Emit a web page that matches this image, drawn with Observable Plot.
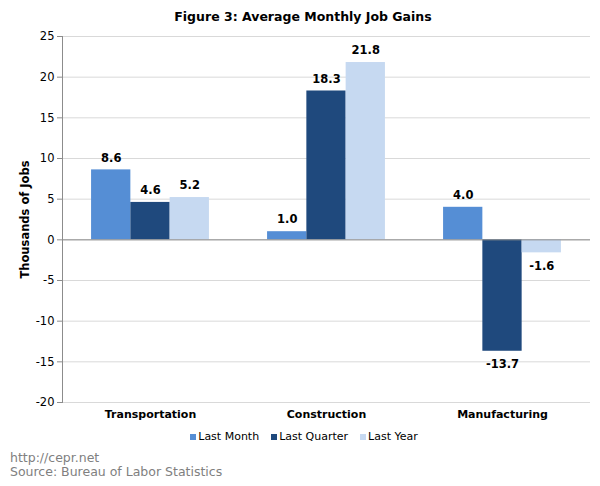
<!DOCTYPE html>
<html>
<head>
<meta charset="utf-8">
<script src="https://cdn.jsdelivr.net/npm/d3@7"></script>
<script src="https://cdn.jsdelivr.net/npm/@observablehq/plot@0.6"></script>
<style>
  html, body { margin: 0; padding: 0; background: #fff; }
  #wrap { position: relative; width: 600px; height: 486px; font-family: "DejaVu Sans", Verdana, sans-serif; }
  #title { position: absolute; top: 9px; left: 0; width: 606px; text-align: center; font-weight: bold; font-size: 12.5px; color: #000; }
  #legend { position: absolute; top: 430px; left: 0; width: 600px; display: flex; justify-content: center; gap: 12px; font-size: 11px; color: #000; padding-left: 8px; box-sizing: border-box; }
  #legend .item { display: flex; align-items: center; gap: 2px; }
  #legend .sw { width: 6px; height: 6px; display: inline-block; }
  #footer { position: absolute; top: 451px; left: 10px; font-size: 12.5px; line-height: 14px; color: #808080; }
  svg [aria-label="y-axis label"] text { font-weight: bold; }
</style>
</head>
<body>
<div id="wrap">
  <div id="title">Figure 3: Average Monthly Job Gains</div>
  <div id="chart"></div>
  <div id="legend"></div>
  <div id="footer">http://cepr.net<br>Source: Bureau of Labor Statistics</div>
</div>
<script>
const categories = ["Transportation", "Construction", "Manufacturing"];
const seriesNames = ["Last Month", "Last Quarter", "Last Year"];
const lastMonth = [8.6, 1.0, 4.0];
const lastQuarter = [4.6, 18.3, -13.7];
const lastYear = [5.2, 21.8, -1.6];
const seriesColors = ["#558ED5", "#1F497D", "#C6D9F1"];
const yTicks = [-20, -15, -10, -5, 0, 5, 10, 15, 20, 25];

const seriesValues = [lastMonth, lastQuarter, lastYear];
const data = [];
categories.forEach((c, i) => {
  seriesNames.forEach((s, j) => {
    data.push({category: c, series: s, value: seriesValues[j][i]});
  });
});
const fmt = v => v.toFixed(1);

const chart = Plot.plot({
  width: 600,
  height: 486,
  marginTop: 36,
  marginBottom: 84,
  marginLeft: 62,
  marginRight: 10,
  style: { fontFamily: "DejaVu Sans, Verdana, sans-serif", fontSize: "11px", color: "#000", background: "#fff" },
  fx: { domain: categories, paddingInner: 0, paddingOuter: 0, label: null },
  x: { domain: seriesNames, paddingInner: 0, paddingOuter: 0.74, round: false, axis: null },
  y: { domain: [-20, 25], label: "Thousands of Jobs" },
  color: { domain: seriesNames, range: seriesColors },
  marks: [
    Plot.ruleY(yTicks, { stroke: "#d9d9d9", strokeWidth: 1 }),
    Plot.barY(data, { fx: "category", x: "series", y: "value", fill: "series" }),
    Plot.ruleY([0], { stroke: "#8c8c8c", strokeWidth: 1 }),
    Plot.text(data.filter(d => d.value >= 0), { fx: "category", x: "series", y: "value", text: d => fmt(d.value), dy: -12, fontWeight: "bold", fontSize: 11.5 }),
    Plot.text(data.filter(d => d.value < 0), { fx: "category", x: "series", y: "value", text: d => fmt(d.value), dy: 13, fontWeight: "bold", fontSize: 11.5 }),
    Plot.frame({ anchor: "left", facetAnchor: "left", stroke: "#8c8c8c" }),
    Plot.axisY({ ticks: yTicks, tickFormat: d => String(d), tickSize: 5, tickPadding: 3, stroke: "#8c8c8c", label: "Thousands of Jobs", labelAnchor: "center", labelArrow: "none", labelOffset: 42, fontSize: 11.5 }),
    Plot.axisFx({ anchor: "bottom", tickSize: 0, tickPadding: 8, fontWeight: "bold", fontSize: 11, label: null })
  ]
});
chart.querySelectorAll('[aria-label="y-axis tick label"] text').forEach(t => t.setAttribute("fill", "#000"));
document.getElementById("chart").appendChild(chart);

const legend = document.getElementById("legend");
seriesNames.forEach((s, i) => {
  const item = document.createElement("div");
  item.className = "item";
  const sw = document.createElement("span");
  sw.className = "sw";
  sw.style.background = seriesColors[i];
  const lbl = document.createElement("span");
  lbl.textContent = s;
  item.appendChild(sw);
  item.appendChild(lbl);
  legend.appendChild(item);
});
</script>
</body>
</html>
